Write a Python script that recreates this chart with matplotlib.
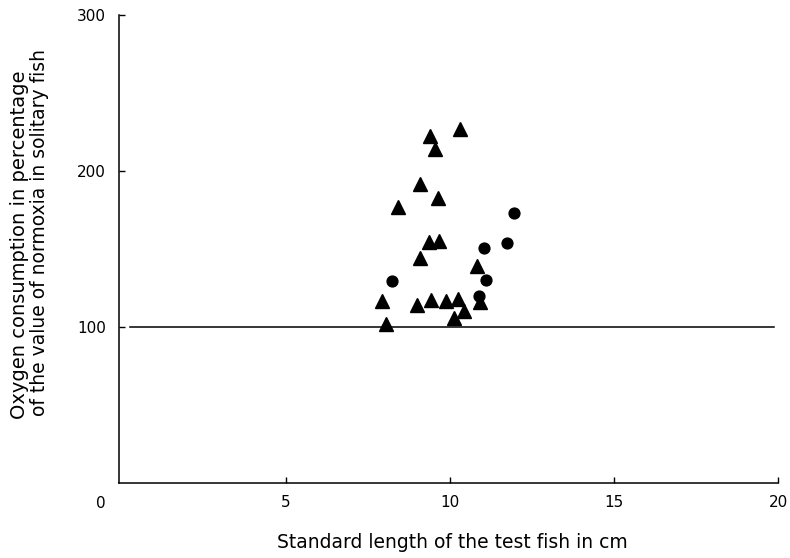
import matplotlib
matplotlib.use("Agg")
import matplotlib.pyplot as plt

# Triangles (group 1)
tri_x = [9.40, 10.30, 9.56, 9.09, 9.64, 8.43, 9.37, 9.68, 9.09, 10.82,
         7.95, 9.00, 9.44, 9.89, 10.25, 10.43, 10.14, 8.05, 10.91]
tri_y = [222.3, 226.8, 214.0, 191.6, 182.6, 176.7, 154.4, 155.2, 143.9, 139.3,
         116.7, 114.3, 117.2, 116.5, 117.8, 110.3, 105.8, 101.8, 116.2]
# Circles (group 2)
circ_x = [8.25, 11.05, 11.75, 11.96, 11.11, 10.89]
circ_y = [129.6, 150.4, 153.9, 172.8, 130.0, 119.9]

ref_level = 100
ref_x = [0.27, 19.88]

xticks = [5, 10, 15, 20]
yticks = [100, 200, 300]

plt.rcParams['font.family'] = ['DejaVu Sans']

fig = plt.figure(figsize=(7.9, 5.58), dpi=100)
ax = fig.add_axes([118.5 / 790, 1 - 482.7 / 558, (778 - 118.5) / 790, (482.7 - 15) / 558])

ax.plot(ref_x, [ref_level, ref_level], color='black', lw=1.1)
ax.plot(tri_x, tri_y, linestyle='none', marker='^', markersize=9.5, color='black')
ax.plot(circ_x, circ_y, linestyle='none', marker='o', markersize=7.8, color='black')

ax.set_xlim(-0.09, 20)
ax.set_ylim(0, 300)
ax.set_xticks(xticks)
ax.set_yticks(yticks)
ax.set_xticklabels([str(t) for t in xticks])
ax.set_yticklabels([str(t) for t in yticks])
ax.tick_params(direction='in', length=4, width=1, labelsize=11, colors='black')
ax.tick_params(axis='x', pad=9)
ax.tick_params(axis='y', pad=9)
ax.text(-0.64, -0.028, "0", transform=ax.get_xaxis_transform(), ha='center', va='top',
        fontsize=11)

for s in ['top', 'right']:
    ax.spines[s].set_visible(False)
for s in ['left', 'bottom']:
    ax.spines[s].set_linewidth(1.1)

fig.text(452 / 790, 1 - 543 / 558, "Standard length of the test fish in cm",
         ha='center', va='center', fontsize=13.5)
fig.text(19.5 / 790, 1 - 245 / 558, "Oxygen consumption in percentage",
         ha='center', va='center', rotation=90, fontsize=14)
fig.text(40 / 790, 1 - 233 / 558, "of the value of normoxia in solitary fish",
         ha='center', va='center', rotation=90, fontsize=13.5)

fig.savefig("out.png", dpi=100)
